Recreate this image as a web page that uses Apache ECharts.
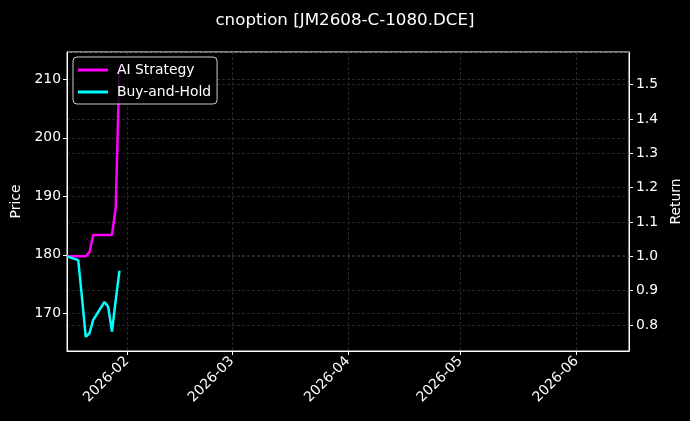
<!DOCTYPE html>
<html>
<head>
<meta charset="utf-8">
<script src="https://cdn.jsdelivr.net/npm/echarts@6/dist/echarts.min.js"></script>
<style>
html,body{margin:0;padding:0;background:#000;}
#chart{width:690px;height:421px;}
</style>
</head>
<body>
<div id="chart"></div>
<script>
const dates = ['2026-01-16','2026-01-19','2026-01-20','2026-01-21','2026-01-22','2026-01-23','2026-01-26','2026-01-27','2026-01-28','2026-01-29','2026-01-30'];
const aiStrategy = [1.0, 1.0, 1.0, 1.0, 1.012, 1.062, 1.062, 1.062, 1.062, 1.14, 1.555];
const buyAndHold = [1.0, 0.989, 0.88, 0.766, 0.776, 0.815, 0.867, 0.853, 0.781, 0.872, 0.958];
const xRange = ['2026-01-16', '2026-06-15'];
const priceRange = [163.57, 214.66];
const returnRange = [0.7244, 1.5948];

const font = 'DejaVu Sans';
const gridLine = {show: true, lineStyle: {color: '#404040', width: 0.6, type: [3, 2]}};
const chart = echarts.init(document.getElementById('chart'));
chart.setOption({
  backgroundColor: '#000',
  animation: false,
  textStyle: {fontFamily: font},
  title: {
    text: 'cnoption [JM2608-C-1080.DCE]',
    left: 'center', top: 7,
    textStyle: {color: '#fff', fontSize: 16.7, fontWeight: 'normal', fontFamily: font}
  },
  legend: {
    left: 73, top: 57,
    orient: 'vertical',
    itemGap: 8,
    itemWidth: 30, itemHeight: 3,
    icon: 'rect',
    padding: [6, 6, 5, 5],
    backgroundColor: 'rgba(0,0,0,0.8)',
    borderColor: '#cccccc', borderWidth: 1, borderRadius: 4,
    textStyle: {color: '#fff', fontSize: 13.9, fontFamily: font, padding: [0, 0, 0, 4]},
    data: ['AI Strategy', 'Buy-and-Hold']
  },
  grid: {left: 67, right: 61, top: 52, bottom: 70, show: true, borderColor: '#fff', borderWidth: 1, outerBoundsMode: 'none', containLabel: false},
  xAxis: {
    type: 'time',
    min: xRange[0], max: xRange[1],
    axisLine: {show: true, lineStyle: {color: '#fff'}},
    axisTick: {show: true, length: 4, lineStyle: {color: '#fff'}},
    axisLabel: {
      color: '#fff', fontSize: 13.9, rotate: 45, fontFamily: font,
      formatter: function (v) {
        const d = new Date(v);
        if (d.getDate() !== 1) return '';
        return echarts.time.format(v, '{yyyy}-{MM}', false);
      }
    },
    splitLine: gridLine
  },
  yAxis: [{
    type: 'value', position: 'left',
    min: priceRange[0], max: priceRange[1], splitNumber: 5,
    name: 'Price', nameLocation: 'middle', nameRotate: 90, nameGap: 42,
    nameTextStyle: {color: '#fff', fontSize: 13.9, fontFamily: font},
    axisLine: {show: true, lineStyle: {color: '#fff'}},
    axisTick: {show: true, length: 4, lineStyle: {color: '#fff'}},
    axisLabel: {color: '#fff', fontSize: 13.9, showMinLabel: false, showMaxLabel: false, margin: 6},
    splitLine: gridLine
  }, {
    type: 'value', position: 'right',
    min: returnRange[0], max: returnRange[1], splitNumber: 8,
    name: 'Return', nameLocation: 'middle', nameRotate: 90, nameGap: 38,
    nameTextStyle: {color: '#fff', fontSize: 13.9, fontFamily: font},
    axisLine: {show: true, lineStyle: {color: '#fff'}},
    axisTick: {show: true, length: 4, lineStyle: {color: '#fff'}},
    axisLabel: {color: '#fff', fontSize: 13.9, showMinLabel: false, showMaxLabel: false, margin: 7,
      formatter: function (v) { return v.toFixed(1); }},
    splitLine: gridLine
  }],
  series: [{
    name: 'AI Strategy', type: 'line', yAxisIndex: 1,
    data: dates.map((d, i) => [d, aiStrategy[i]]),
    showSymbol: false, symbol: 'none',
    lineStyle: {color: '#ff00ff', width: 2.5},
    itemStyle: {color: '#ff00ff'}
  }, {
    name: 'Buy-and-Hold', type: 'line', yAxisIndex: 1,
    data: dates.map((d, i) => [d, buyAndHold[i]]),
    showSymbol: false, symbol: 'none',
    lineStyle: {color: '#00ffff', width: 2.5},
    itemStyle: {color: '#00ffff'}
  }]
});
</script>
</body>
</html>
